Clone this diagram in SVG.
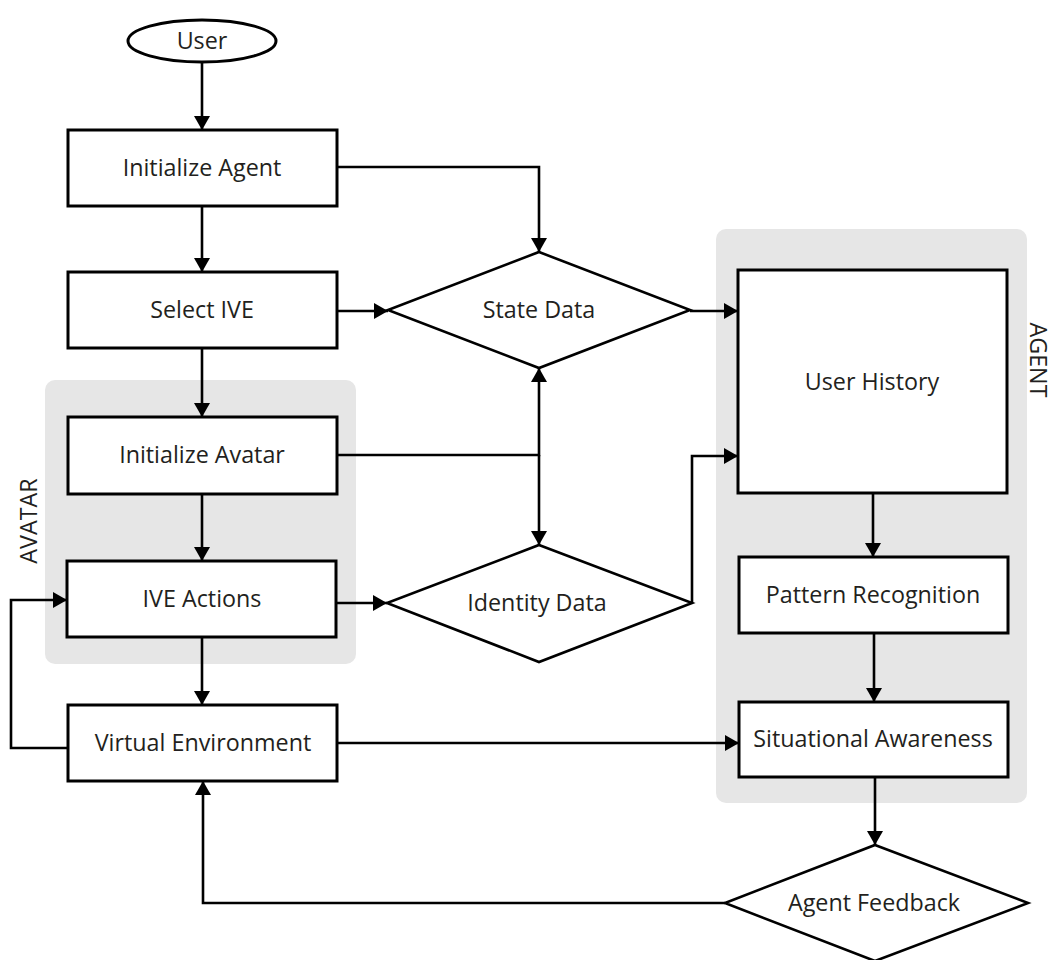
<svg xmlns="http://www.w3.org/2000/svg" width="1056" height="960" viewBox="0 0 1056 960">
  <style>
    .box { fill: #ffffff; stroke: #000000; stroke-width: 3; }
    .dia { fill: #ffffff; stroke: #000000; stroke-width: 2.6; stroke-linejoin: miter; }
    .grp { fill: #e6e6e6; }
    .lbl { font-family: "Open Sans", "Liberation Sans", sans-serif; font-size: 23.3px; fill: #231f20; text-anchor: middle; }
    .edge { fill: none; stroke: #000000; stroke-width: 2.6; }
    .arr { marker-end: url(#head); }
  </style>
  <defs>
    <marker id="head" markerUnits="userSpaceOnUse" markerWidth="16" markerHeight="16" refX="14" refY="8" orient="auto">
      <path d="M0,0 L14,8 L0,16 z" fill="#000000"/>
    </marker>
  </defs>
  <rect width="1056" height="960" fill="#ffffff"/>

  <!-- group backgrounds -->
  <g id="avatar-group">
    <rect class="grp" x="45" y="380" width="311" height="284" rx="10"/>
    <text class="lbl" transform="translate(37,521) rotate(-90)">AVATAR</text>
  </g>
  <g id="agent-group">
    <rect class="grp" x="716" y="229" width="311" height="574" rx="10"/>
    <text class="lbl" transform="translate(1030,360) rotate(90)">AGENT</text>
  </g>

  <!-- connectors -->
  <g id="connectors">
    <path class="edge arr" d="M202,62 V130"/>
    <path class="edge arr" d="M202,206 V272"/>
    <path class="edge arr" d="M337,167 H539 V252"/>
    <path class="edge arr" d="M337,311 H388"/>
    <path class="edge arr" d="M690,311 H738"/>
    <path class="edge arr" d="M202,348 V417"/>
    <path class="edge arr" d="M337,455 H539 V368"/>
    <path class="edge arr" d="M539,455 V545"/>
    <path class="edge arr" d="M202,494 V561"/>
    <path class="edge arr" d="M337,603 H387"/>
    <path class="edge arr" d="M692,603 V456 H738"/>
    <path class="edge arr" d="M202,637 V705"/>
    <path class="edge arr" d="M68,748 H11 V600 H67"/>
    <path class="edge arr" d="M337,743 H739"/>
    <path class="edge arr" d="M873,493 V557"/>
    <path class="edge arr" d="M874,633 V702"/>
    <path class="edge arr" d="M875,777 V845"/>
    <path class="edge arr" d="M725,903 H203 V781"/>
  </g>

  <!-- nodes -->
  <g id="user">
    <ellipse class="box" cx="202" cy="41" rx="74" ry="21" stroke-width="2.6"/>
    <text class="lbl" x="202" y="49">User</text>
  </g>
  <g id="initialize-agent">
    <rect class="box" x="68" y="130" width="269" height="76"/>
    <text class="lbl" x="202" y="176">Initialize Agent</text>
  </g>
  <g id="select-ive">
    <rect class="box" x="68" y="272" width="269" height="76"/>
    <text class="lbl" x="202" y="318">Select IVE</text>
  </g>
  <g id="initialize-avatar">
    <rect class="box" x="68" y="417" width="269" height="77"/>
    <text class="lbl" x="202" y="463">Initialize Avatar</text>
  </g>
  <g id="ive-actions">
    <rect class="box" x="67" y="561" width="269" height="76"/>
    <text class="lbl" x="202" y="607">IVE Actions</text>
  </g>
  <g id="virtual-environment">
    <rect class="box" x="68" y="705" width="269" height="76"/>
    <text class="lbl" x="203" y="751">Virtual Environment</text>
  </g>
  <g id="state-data">
    <polygon class="dia" points="539,252 690,310 539,368 388,310"/>
    <text class="lbl" x="539" y="318">State Data</text>
  </g>
  <g id="identity-data">
    <polygon class="dia" points="539,545 692,603 539,662 387,603"/>
    <text class="lbl" x="537" y="611">Identity Data</text>
  </g>
  <g id="user-history">
    <rect class="box" x="738" y="270" width="269" height="223"/>
    <text class="lbl" x="872" y="390">User History</text>
  </g>
  <g id="pattern-recognition">
    <rect class="box" x="739" y="557" width="269" height="76"/>
    <text class="lbl" x="873" y="603">Pattern Recognition</text>
  </g>
  <g id="situational-awareness">
    <rect class="box" x="739" y="702" width="269" height="75"/>
    <text class="lbl" x="873" y="747">Situational Awareness</text>
  </g>
  <g id="agent-feedback">
    <polygon class="dia" points="875,845 1028,903 875,961 725,903"/>
    <text class="lbl" x="874" y="911">Agent Feedback</text>
  </g>
</svg>
